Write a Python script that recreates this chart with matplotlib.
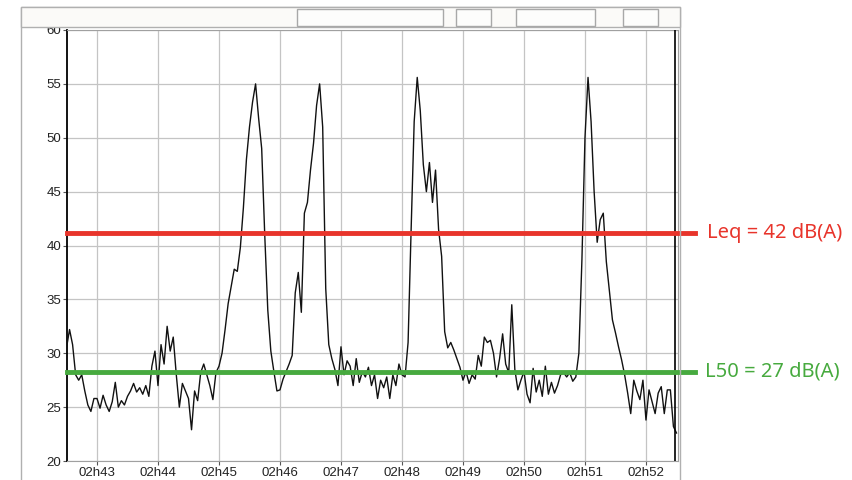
import matplotlib.pyplot as plt
from matplotlib.patches import Rectangle

# sound level samples, one every 3 s starting at 02h42:30
start_s = -30
step_s = 3
levels = [
    30.5, 32.2, 30.8, 28.0, 27.5, 28.0, 26.5, 25.2, 24.6, 25.8,
    25.8, 24.9, 26.1, 25.2, 24.6, 25.5, 27.3, 25.0, 25.6, 25.2,
    26.0, 26.5, 27.2, 26.4, 26.8, 26.2, 27.0, 26.0, 28.8, 30.2,
    27.0, 30.8, 29.0, 32.5, 30.2, 31.5, 28.0, 25.0, 27.2, 26.5,
    25.8, 22.9, 26.5, 25.6, 28.2, 29.0, 28.0, 27.0, 25.7, 28.2,
    28.8, 30.0, 32.2, 34.6, 36.2, 37.8, 37.6, 39.8, 43.5, 48.0,
    51.0, 53.3, 55.0, 51.8, 49.0, 41.0, 34.0, 30.2, 28.3, 26.5,
    26.6, 27.6, 28.3, 29.0, 29.8, 35.6, 37.5, 33.8, 43.0, 44.0,
    47.0, 49.5, 53.0, 55.0, 51.0, 36.0, 30.8, 29.5, 28.5, 27.0,
    30.6, 28.0, 29.3, 28.8, 27.0, 29.5, 27.3, 28.3, 27.8, 28.7,
    27.0, 28.0, 25.8, 27.5, 26.8, 27.8, 25.8, 28.0, 27.0, 29.0,
    28.0, 27.8, 31.0, 41.5, 51.5, 55.6, 52.5, 47.5, 45.0, 47.7,
    44.0, 47.0, 41.5, 39.0, 32.0, 30.5, 31.0, 30.3, 29.5, 28.7,
    27.5, 28.3, 27.2, 28.0, 27.6, 29.8, 28.8, 31.5, 31.0, 31.2,
    30.0, 27.8, 29.5, 31.8, 29.0, 28.2, 34.5, 28.5, 26.6, 27.5,
    28.3, 26.2, 25.4, 28.6, 26.4, 27.5, 26.0, 28.8, 26.2, 27.3,
    26.3, 27.0, 28.0, 28.2, 27.8, 28.2, 27.4, 27.8, 30.0, 38.7,
    50.0, 55.6, 51.5, 45.0, 40.3, 42.4, 43.0, 38.5, 35.8, 33.1,
    31.9, 30.6, 29.4, 28.0, 26.3, 24.4, 27.5, 26.5, 25.7, 27.5,
    23.8, 26.6, 25.5, 24.4, 26.3, 26.9, 24.4, 26.6, 26.6, 23.2,
    22.6,
]
times = [start_s + step_s * i for i in range(len(levels))]

tick_seconds = [0, 60, 120, 180, 240, 300, 360, 420, 480, 540]
tick_labels = ["02h43", "02h44", "02h45", "02h46", "02h47",
               "02h48", "02h49", "02h50", "02h51", "02h52"]
y_ticks = [20, 25, 30, 35, 40, 45, 50, 55, 60]

leq_level = 41.2
l50_level = 28.3
leq_label = "Leq = 42 dB(A)"
l50_label = "L50 = 27 dB(A)"
cursor_s = 569

W, H = 852, 480
fig = plt.figure(figsize=(W / 100, H / 100), dpi=100)


def fig_box(x0, y0, x1, y1):
    return [x0 / W, 1 - y1 / H, (x1 - x0) / W, (y1 - y0) / H]


# outer widget frame and toolbar strip
fig.patches.append(Rectangle((21 / W, -0.1), (680 - 21) / W, 1.1 - 7 / H,
                             transform=fig.transFigure, fill=False,
                             edgecolor="#b0b0b0", linewidth=1))
x, y, w, h = fig_box(21, 7, 680, 27)
fig.patches.append(Rectangle((x, y), w, h, transform=fig.transFigure,
                             facecolor="#fbfaf8", edgecolor="#b0b0b0", linewidth=1))
for bx0, bx1 in [(297, 443), (456, 491), (516, 595), (623, 658)]:
    x, y, w, h = fig_box(bx0, 9, bx1, 26)
    fig.patches.append(Rectangle((x, y), w, h, transform=fig.transFigure,
                                 facecolor="#fdfdfc", edgecolor="#a8a8a8", linewidth=1))

ax = fig.add_axes(fig_box(67, 30, 678, 461))
ax.plot(times, levels, color="#111111", linewidth=1.0, zorder=3)
ax.axvline(cursor_s, color="black", linewidth=1.2, zorder=4)

ax.set_xlim(-29.5, 571.5)
ax.set_ylim(20, 60)
ax.set_xticks(tick_seconds)
ax.set_xticklabels(tick_labels)
ax.set_yticks(y_ticks)
ax.grid(True, color="#c4c4c4", linewidth=0.9)
ax.set_axisbelow(True)
for lab in ax.get_xticklabels() + ax.get_yticklabels():
    lab.set_family("Liberation Sans")
    lab.set_fontsize(9.5)
    lab.set_color("#222222")
ax.tick_params(axis="both", length=3, width=0.8, color="#555555", pad=1)
for side in ["top", "right", "bottom"]:
    ax.spines[side].set_color("#a0a0a0")
ax.spines["left"].set_color("black")
ax.spines["left"].set_linewidth(1.3)

# reference levels, running past the plot edge
ax.axhline(leq_level, xmin=0, xmax=1.028, color="#e8342b", linewidth=3.5,
           clip_on=False, zorder=5)
ax.axhline(l50_level, xmin=0, xmax=1.028, color="#47aa3f", linewidth=3.5,
           clip_on=False, zorder=5)
ax.text(1.047, leq_level, leq_label, transform=ax.get_yaxis_transform(),
        color="#e8342b", fontsize=14.5, family="Noto Sans", va="center", ha="left")
ax.text(1.044, l50_level, l50_label, transform=ax.get_yaxis_transform(),
        color="#47aa3f", fontsize=14.5, family="Noto Sans", va="center", ha="left")

fig.savefig("out.png", dpi=100)
